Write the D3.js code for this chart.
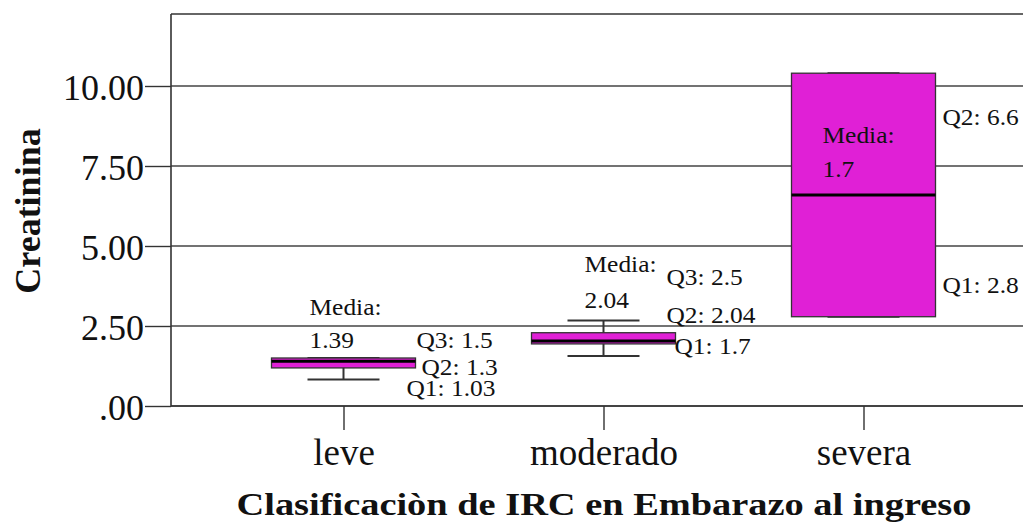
<!DOCTYPE html>
<html>
<head>
<meta charset="utf-8">
<script src="https://cdn.jsdelivr.net/npm/d3@7"></script>
<style>
  body { margin: 0; background: #fff; }
  svg { display: block; }
  text { font-family: "Liberation Serif", "Times New Roman", serif; fill: #111; }
</style>
</head>
<body>
<svg id="chart" width="1023" height="523"></svg>
<script>
// categories and box stats
const categories = ["leve", "moderado", "severa"];
const whiskerLow  = [0.83, 1.56, 2.79];
const q1Values    = [1.19, 1.94, 2.79];
const medians     = [1.40, 2.03, 6.59];
const q3Values    = [1.50, 2.29, 10.40];
const whiskerHigh = [1.50, 2.67, 10.40];
const yTicks = [0, 2.5, 5, 7.5, 10];

// annotation texts per category
const noteTexts = [
  ["Media:", "1.39", "Q3: 1.5", "Q2: 1.3", "Q1: 1.03"],
  ["Media:", "2.04", "Q3: 2.5", "Q2: 2.04", "Q1: 1.7"],
  ["Media:", "1.7", "Q2: 6.6", "Q1: 2.8"]
];
// where each annotation sits: offset from category centre, baseline in px
const noteLayout = [
  [[-34, 315], [-34, 348], [73, 348], [78, 375], [63, 396]],
  [[-19, 272], [-19, 308], [63, 285], [63, 323], [71, 354]],
  [[-41, 143], [-41, 177], [79, 125], [79, 293]]
];

const boxes = categories.map((c, i) => ({
  cat: c, lo: whiskerLow[i], q1: q1Values[i], med: medians[i], q3: q3Values[i], hi: whiskerHigh[i]
}));

const svg = d3.select("#chart");
const plotLeft = 171, plotTop = 14, plotBottom = 406, plotRight = 1030;

const x = d3.scalePoint().domain(categories).range([343.5, 863.5]);
const y = d3.scaleLinear().domain([0, 12.25]).range([plotBottom, plotTop]);

const boxW = 144, capW = 72;

// grid lines
svg.append("g")
  .selectAll("line")
  .data(yTicks)
  .enter()
  .append("line")
  .attr("x1", plotLeft).attr("x2", plotRight)
  .attr("y1", d => y(d)).attr("y2", d => y(d))
  .style("stroke", "#444")
  .style("stroke-width", d => d === 0 ? 2 : 1.4);

// y axis
let yAxis = svg.append("g")
  .attr("transform", `translate(${plotLeft},0)`)
  .call(d3.axisLeft(y).tickValues(yTicks).tickSize(26).tickPadding(1)
    .tickFormat(d => d === 0 ? ".00" : d3.format(".2f")(d)));
yAxis.select(".domain").remove();
yAxis.selectAll(".tick line").style("stroke", "#333").style("stroke-width", 1.4);
yAxis.selectAll(".tick text")
  .style("font-family", "'Liberation Serif', serif")
  .style("font-size", "36px")
  .style("fill", "#111")
  .attr("dy", "0.38em");

// frame: left and top
svg.append("line").attr("x1", plotLeft).attr("x2", plotLeft).attr("y1", plotTop).attr("y2", plotBottom)
  .style("stroke", "#333").style("stroke-width", 1.6);
svg.append("line").attr("x1", plotLeft).attr("x2", plotRight).attr("y1", plotTop).attr("y2", plotTop)
  .style("stroke", "#333").style("stroke-width", 1.6);

// x axis ticks + labels
let xAxis = svg.append("g")
  .attr("transform", `translate(0,${plotBottom})`)
  .call(d3.axisBottom(x).tickSize(24).tickPadding(9));
xAxis.select(".domain").remove();
xAxis.selectAll(".tick line").style("stroke", "#333").style("stroke-width", 1.4);
xAxis.selectAll(".tick text")
  .style("font-family", "'Liberation Serif', serif")
  .style("font-size", "37px")
  .style("fill", "#111");

// boxes
let g = svg.append("g").selectAll(".box")
  .data(boxes)
  .enter()
  .append("g")
  .attr("class", "box");

g.append("line")
  .attr("x1", d => x(d.cat)).attr("x2", d => x(d.cat))
  .attr("y1", d => y(d.lo)).attr("y2", d => y(d.hi))
  .style("stroke", "#333").style("stroke-width", 2);

g.selectAll(".cap")
  .data(d => [d.lo, d.hi].map(v => ({ cat: d.cat, v: v })))
  .enter()
  .append("line")
  .attr("class", "cap")
  .attr("x1", d => x(d.cat) - capW / 2).attr("x2", d => x(d.cat) + capW / 2)
  .attr("y1", d => y(d.v)).attr("y2", d => y(d.v))
  .style("stroke", "#333").style("stroke-width", 2);

g.append("rect")
  .attr("x", d => x(d.cat) - boxW / 2)
  .attr("y", d => y(d.q3))
  .attr("width", boxW)
  .attr("height", d => y(d.q1) - y(d.q3))
  .style("fill", "#e020d6")
  .style("stroke", "#333")
  .style("stroke-width", 1.3);

g.append("line")
  .attr("x1", d => x(d.cat) - boxW / 2).attr("x2", d => x(d.cat) + boxW / 2)
  .attr("y1", d => y(d.med)).attr("y2", d => y(d.med))
  .style("stroke", "#000").style("stroke-width", 3);

// annotations
categories.forEach((c, i) => {
  svg.append("g").selectAll("text")
    .data(noteTexts[i])
    .enter()
    .append("text")
    .attr("transform", (d, j) => `translate(${x(c) + noteLayout[i][j][0]},${noteLayout[i][j][1]}) scale(1.06,1)`)
    .style("font-size", "24px")
    .text(d => d);
});

// axis titles
svg.append("text")
  .attr("transform", `translate(40,211) rotate(-90)`)
  .attr("text-anchor", "middle")
  .style("font-size", "36px")
  .style("font-weight", "bold")
  .text("Creatinina");

svg.append("text")
  .attr("transform", `translate(604,515) scale(1.2,1)`)
  .attr("text-anchor", "middle")
  .style("font-size", "32px")
  .style("font-weight", "bold")
  .text("Clasificaciòn de IRC en Embarazo al ingreso");
</script>
</body>
</html>
